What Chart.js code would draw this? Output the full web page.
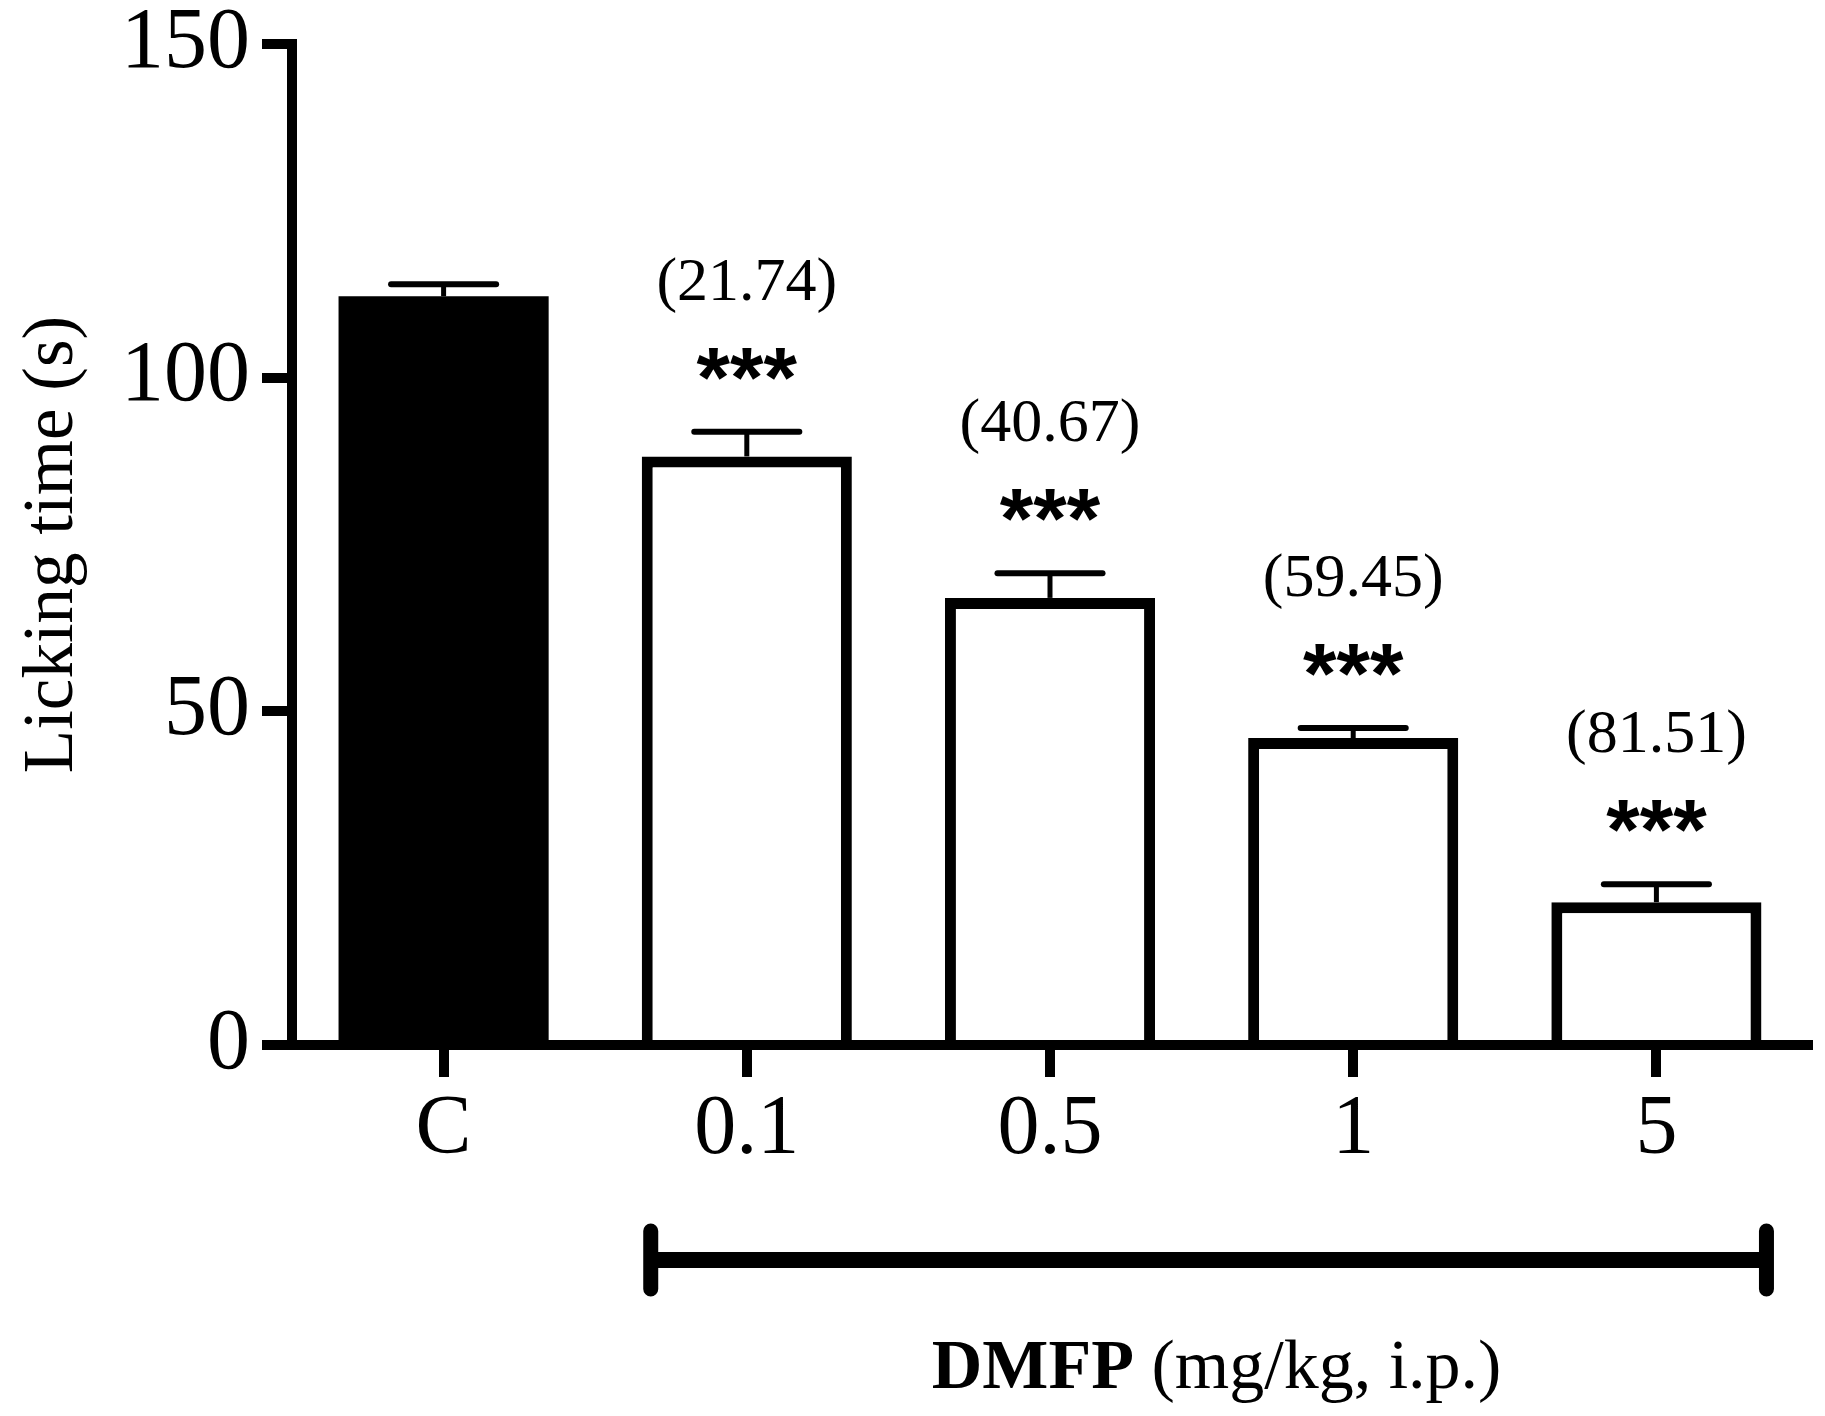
<!DOCTYPE html>
<html>
<head>
<meta charset="utf-8">
<script src="https://cdn.jsdelivr.net/npm/chart.js@4.4.1/dist/chart.umd.min.js"></script>
<style>
  html, body { margin: 0; padding: 0; background: #fff; }
  #wrap { width: 1825px; height: 1416px; position: relative; }
</style>
</head>
<body>
<div id="wrap"><canvas id="chart"></canvas></div>
<script>
// data
const doses = ['C', '0.1', '0.5', '1', '5']
const lickingTime = [112.2, 88.2, 67.0, 46.0, 21.4]
const lickingSem = [1.8, 3.7, 3.7, 1.5, 2.7]
const inhibition = [null, 21.74, 40.67, 59.45, 81.51]
const significance = ['', '***', '***', '***', '***']
const yTicks = [0, 50, 100, 150]
const barColors = ['#000000', '#ffffff', '#ffffff', '#ffffff', '#ffffff']
const yTitle = 'Licking time (s)'
const xTitleBold = 'DMFP'
const xTitleRest = ' (mg/kg, i.p.)'

const serif = '"Liberation Serif", "Times New Roman", serif'
const sans = '"Liberation Sans", Arial, sans-serif'

// error bars, stars, % inhibition, dose bracket and x title
const extrasPlugin = {
    id: 'extras',
    afterDatasetsDraw(chart) {
        let ctx = chart.ctx
        let yScale = chart.scales.y
        let meta = chart.getDatasetMeta(0)
        ctx.save()
        ctx.strokeStyle = '#000'
        ctx.fillStyle = '#000'
        ctx.textAlign = 'center'
        ctx.textBaseline = 'alphabetic'

        meta.data.forEach((bar, i) => {
            let capY = yScale.getPixelForValue(lickingTime[i] + lickingSem[i])
            let half = bar.width / 4

            ctx.lineCap = 'butt'
            ctx.lineWidth = 5
            ctx.beginPath()
            ctx.moveTo(bar.x, bar.y)
            ctx.lineTo(bar.x, capY)
            ctx.stroke()

            ctx.lineCap = 'round'
            ctx.lineWidth = 6
            ctx.beginPath()
            ctx.moveTo(bar.x - half, capY)
            ctx.lineTo(bar.x + half, capY)
            ctx.stroke()

            if(significance[i]) {
                ctx.font = 'bold 86px ' + sans
                ctx.fillText(significance[i], bar.x, capY - 25)
            }
            if(inhibition[i] !== null) {
                ctx.font = '62px ' + serif
                ctx.fillText('(' + inhibition[i].toFixed(2) + ')', bar.x, capY - 132)
            }
        })

        // bracket under the treated doses
        let first = meta.data[1]
        let last = meta.data[meta.data.length - 1]
        let left = first.x - first.width / 2 + 9
        let right = last.x + last.width / 2 + 5
        let bottom = chart.chartArea.bottom
        let by = bottom + 215

        ctx.lineCap = 'butt'
        ctx.lineWidth = 16
        ctx.beginPath()
        ctx.moveTo(left, by)
        ctx.lineTo(right, by)
        ctx.stroke()

        ctx.lineCap = 'round'
        ctx.lineWidth = 15
        ctx.beginPath()
        ctx.moveTo(left, by - 29)
        ctx.lineTo(left, by + 29)
        ctx.moveTo(right, by - 29)
        ctx.lineTo(right, by + 29)
        ctx.stroke()

        // x title, bold drug name + plain units
        ctx.font = 'bold 70px ' + serif
        let wBold = ctx.measureText(xTitleBold).width
        ctx.font = '70px ' + serif
        let wRest = ctx.measureText(xTitleRest).width
        let tx = (left + right) / 2 + 8 - (wBold + wRest) / 2
        let ty = bottom + 343
        ctx.textAlign = 'left'
        ctx.font = 'bold 70px ' + serif
        ctx.fillText(xTitleBold, tx, ty)
        ctx.font = '70px ' + serif
        ctx.fillText(xTitleRest, tx + wBold, ty)

        ctx.restore()
    }
}

new Chart(document.getElementById('chart'), {
    type: 'bar',
    data: {
        labels: doses,
        datasets: [{
            data: lickingTime,
            backgroundColor: barColors,
            borderColor: '#000000',
            borderWidth: [0, 11, 11, 11, 11],
            borderSkipped: 'start',
            categoryPercentage: 1.0,
            barPercentage: 0.693
        }]
    },
    options: {
        responsive: true,
        maintainAspectRatio: false,
        animation: false,
        devicePixelRatio: 1,
        layout: {
            padding: { top: 44, right: 17, bottom: 0, left: 0 }
        },
        plugins: {
            legend: { display: false },
            tooltip: { enabled: false }
        },
        scales: {
            x: {
                z: 1,
                offset: true,
                grid: {
                    offset: false,
                    drawOnChartArea: false,
                    drawTicks: true,
                    tickLength: 32,
                    lineWidth: 10,
                    tickWidth: 10,
                    tickColor: '#000000',
                    color: '#000000'
                },
                border: { display: true, color: '#000000', width: 10 },
                ticks: {
                    color: '#000000',
                    padding: 12,
                    font: { family: serif, size: 84, lineHeight: 1 }
                },
                afterFit: (scale) => {
                    scale.height = 371
                    scale.paddingLeft = 0
                    scale.paddingRight = 0
                }
            },
            y: {
                min: 0,
                max: 150,
                grid: {
                    drawOnChartArea: false,
                    drawTicks: true,
                    tickLength: 30,
                    lineWidth: 10,
                    tickWidth: 10,
                    tickColor: '#000000',
                    color: '#000000'
                },
                border: { display: true, color: '#000000', width: 10 },
                ticks: {
                    color: '#000000',
                    padding: 12,
                    font: { family: serif, size: 86, lineHeight: 1 }
                },
                afterBuildTicks: (scale) => { scale.ticks = yTicks.map(v => ({ value: v })) },
                afterFit: (scale) => {
                    scale.width = 292
                    scale.paddingTop = 0
                    scale.paddingBottom = 0
                },
                title: {
                    display: true,
                    text: yTitle,
                    color: '#000000',
                    padding: { top: 11, bottom: 0 },
                    font: { family: serif, size: 71, lineHeight: 1.2 }
                }
            }
        }
    },
    plugins: [extrasPlugin]
})
</script>
</body>
</html>
